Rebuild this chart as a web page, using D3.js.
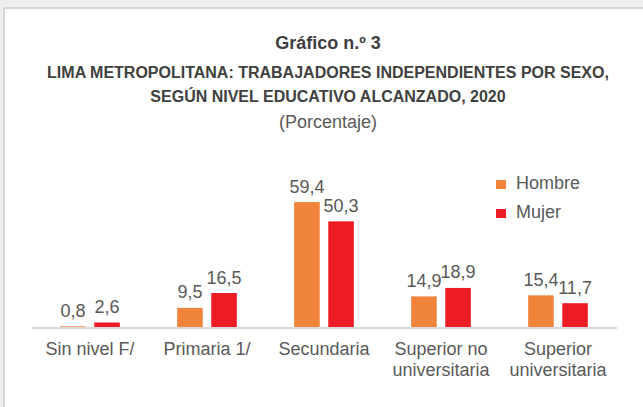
<!DOCTYPE html>
<html>
<head>
<meta charset="utf-8">
<script src="https://cdn.jsdelivr.net/npm/d3@7"></script>
<style>
  body { margin: 0; background: #eeeeee; }
  svg { display: block; font-family: "Liberation Sans", Arial, sans-serif; }
</style>
</head>
<body>
<svg width="643" height="407"></svg>
<script>
// datos del grafico
var categorias = ["Sin nivel F/", "Primaria 1/", "Secundaria", "Superior no universitaria", "Superior universitaria"];
var series = ["Hombre", "Mujer"];
var hombre = [0.8, 9.5, 59.4, 14.9, 15.4];
var mujer = [2.6, 16.5, 50.3, 18.9, 11.7];
var colores = ["#f0843b", "#ed1c24"];

var titulo = "Gráfico n.º 3";
var subtitulo = ["LIMA METROPOLITANA: TRABAJADORES INDEPENDIENTES POR SEXO,", "SEGÚN NIVEL EDUCATIVO ALCANZADO, 2020"];
var unidad = "(Porcentaje)";

var svg = d3.select("svg");

// panel blanco con borde
svg.append("rect")
    .attr("x", 4).attr("y", 8)
    .attr("width", 700).attr("height", 500)
    .attr("fill", "#ffffff")
    .attr("stroke", "#d6d6d6")
    .attr("stroke-width", 2);

var cx = 328;
svg.append("text")
    .attr("x", cx).attr("y", 48.5)
    .attr("text-anchor", "middle")
    .attr("font-size", 18).attr("font-weight", "bold")
    .attr("fill", "#404040")
    .text(titulo);

svg.selectAll(".sub")
    .data(subtitulo)
    .enter().append("text")
    .attr("class", "sub")
    .attr("x", cx)
    .attr("y", function (d, i) { return 78 + i * 24; })
    .attr("text-anchor", "middle")
    .attr("font-size", 16).attr("font-weight", "bold")
    .attr("fill", "#404040")
    .text(function (d) { return d; });

svg.append("text")
    .attr("x", cx).attr("y", 127.5)
    .attr("text-anchor", "middle")
    .attr("font-size", 18)
    .attr("fill", "#595959")
    .text(unidad);

// escalas
var left = 31.5, right = 616.5, base = 328;

var x0 = d3.scaleBand()
    .domain(categorias)
    .range([left, right])
    .paddingInner(0.49)
    .paddingOuter(0.245);

var x1 = d3.scaleBand()
    .domain(series)
    .range([0, x0.bandwidth()])
    .paddingInner(0.25);

var y = d3.scaleLinear()
    .domain([0, 70])
    .range([base, base - 70 * 2.12]);

var coma = d3.formatLocale({ decimal: ",", thousands: ".", grouping: [3], currency: ["", ""] }).format(".1f");

var filas = categorias.map(function (c, i) {
    return { cat: c, valores: [{ s: "Hombre", v: hombre[i] }, { s: "Mujer", v: mujer[i] }] };
});

var grupos = svg.selectAll(".grupo")
    .data(filas)
    .enter().append("g")
    .attr("class", "grupo")
    .attr("transform", function (d) { return "translate(" + x0(d.cat) + ",0)"; });

grupos.selectAll("rect")
    .data(function (d) { return d.valores; })
    .enter().append("rect")
    .attr("x", function (d) { return x1(d.s); })
    .attr("width", x1.bandwidth())
    .attr("y", function (d) { return y(d.v); })
    .attr("height", function (d) { return base - y(d.v); })
    .attr("fill", function (d, i) { return colores[i]; });

grupos.selectAll(".valor")
    .data(function (d) { return d.valores; })
    .enter().append("text")
    .attr("class", "valor")
    .attr("x", function (d) { return x1(d.s) + x1.bandwidth() / 2; })
    .attr("y", function (d) { return y(d.v) - 9.5; })
    .attr("text-anchor", "middle")
    .attr("font-size", 18)
    .attr("fill", "#595959")
    .text(function (d) { return coma(d.v); });

// eje x
var eje = svg.append("g")
    .attr("transform", "translate(0," + (base - 0.5) + ")")
    .call(d3.axisBottom(x0).tickSize(0).tickSizeOuter(0).tickPadding(0));

eje.select(".domain")
    .attr("stroke", "#d9d9d9")
    .attr("stroke-width", 2);

eje.selectAll(".tick text")
    .attr("font-family", "Liberation Sans, Arial, sans-serif")
    .attr("font-size", 18)
    .attr("fill", "#595959")
    .attr("dy", null)
    .attr("y", 27)
    .call(wrap, 108);

function wrap(texts, width) {
    texts.each(function () {
        var text = d3.select(this);
        var words = text.text().split(" ");
        var line = [];
        var lines = [];
        text.text(null);
        var tspan = text.append("tspan");
        words.forEach(function (w) {
            line.push(w);
            tspan.text(line.join(" "));
            if (tspan.node().getComputedTextLength() > width && line.length > 1) {
                line.pop();
                lines.push(line.join(" "));
                line = [w];
            }
        });
        lines.push(line.join(" "));
        text.text(null);
        lines.forEach(function (l, i) {
            text.append("tspan")
                .attr("x", 0)
                .attr("y", 27.5 + i * 21)
                .text(l);
        });
    });
}

// leyenda
var leyenda = svg.selectAll(".ley")
    .data(series)
    .enter().append("g")
    .attr("class", "ley")
    .attr("transform", function (d, i) { return "translate(496," + (180 + i * 29) + ")"; });

leyenda.append("rect")
    .attr("width", 10).attr("height", 9)
    .attr("fill", function (d, i) { return colores[i]; });

leyenda.append("text")
    .attr("x", 20).attr("y", 9)
    .attr("font-size", 18)
    .attr("fill", "#595959")
    .text(function (d) { return d; });
</script>
</body>
</html>
